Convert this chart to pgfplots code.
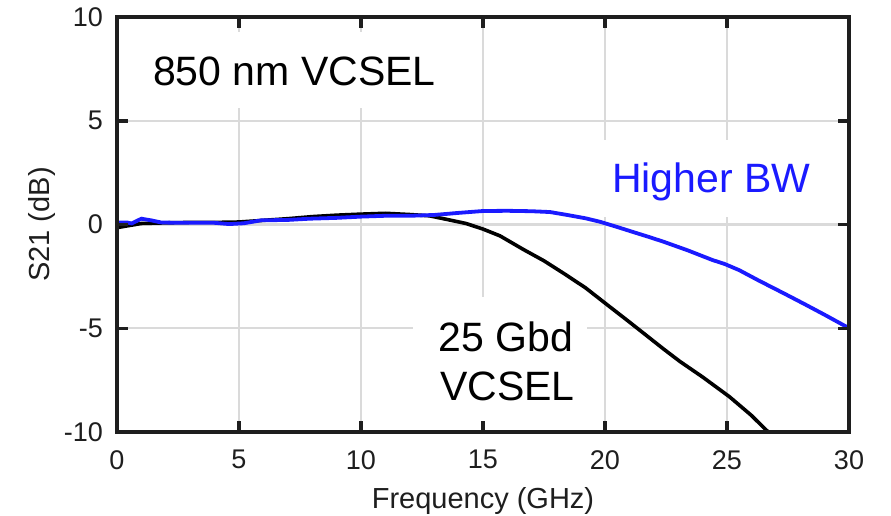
\documentclass[border=0pt]{standalone}
\usepackage{fontspec}
\setmainfont{Liberation Sans}
\usepackage{pgfplots}
\pgfplotsset{compat=1.18}
\definecolor{axgray}{RGB}{30,30,30}
\definecolor{gridgray}{RGB}{218,218,218}
\definecolor{myblue}{RGB}{26,26,255}
\begin{document}
\begin{tikzpicture}
\begin{axis}[
  scale only axis,
  width=732pt, height=415pt,
  xmin=0, xmax=30, ymin=-10, ymax=10,
  xtick={0,5,10,15,20,25,30},
  xticklabels={0,5,10,15,20,25,30},
  ytick={-10,-5,0,5,10},
  yticklabels={-10,-5,0,5,10},
  axis on top,
  axis line style={color=axgray, line width=3.5pt},
  major tick length=0pt,
  ticklabel style={font=\fontsize{27}{32}\selectfont, text=axgray, inner sep=0pt},
  xticklabel style={anchor=north, yshift=-18pt},
  yticklabel style={anchor=east, xshift=-14pt},
  xlabel={Frequency (GHz)},
  ylabel={S21 (dB)},
  label style={font=\fontsize{29}{34}\selectfont, text=axgray, inner sep=0pt},
  xlabel style={at={([yshift=-76pt]rel axis cs:0.5,0)}, anchor=base},
  ylabel style={at={([xshift=-67pt]rel axis cs:0,0.5)}, anchor=base},
]
\coordinate (bl) at (rel axis cs:0,0);
\coordinate (tr) at (rel axis cs:1,1);
% grid
\draw[gridgray, line width=2.2pt] (axis cs:5,-10) -- (axis cs:5,10);
\draw[gridgray, line width=2.2pt] (axis cs:10,-10) -- (axis cs:10,10);
\draw[gridgray, line width=2.2pt] (axis cs:15,-10) -- (axis cs:15,10);
\draw[gridgray, line width=2.2pt] (axis cs:20,-10) -- (axis cs:20,10);
\draw[gridgray, line width=2.2pt] (axis cs:25,-10) -- (axis cs:25,10);
\draw[gridgray, line width=2.2pt] (axis cs:0,-5) -- (axis cs:30,-5);
\draw[gridgray, line width=2.2pt] (axis cs:0,0) -- (axis cs:30,0);
\draw[gridgray, line width=2.2pt] (axis cs:0,5) -- (axis cs:30,5);
% text boxes
\fill[white] (axis cs:0.53,9.28) rectangle (axis cs:14.0,5.61);
\fill[white] (axis cs:19.34,4.07) rectangle (axis cs:29.4,0.36);
\fill[white] (axis cs:12.13,-3.49) rectangle (axis cs:19.26,-10);

\addplot[black, line width=3.6pt, no markers] coordinates {
(0,-0.15) (0.5,-0.05) (1,0.05) (2,0.08) (3,0.1) (4,0.1) (5,0.12) (6,0.2)
(7,0.28) (8,0.38) (9,0.45) (10,0.5) (11,0.54) (12,0.48) (12.8,0.42)
(13.5,0.25) (14.3,0.05) (15,-0.22) (15.7,-0.55) (16.65,-1.2) (17.5,-1.75)
(18.3,-2.35) (19.2,-3.05) (20.07,-3.85) (21,-4.7) (21.7,-5.35) (22.4,-6.0)
(23.07,-6.6) (24,-7.35) (25.1,-8.3) (26,-9.2) (26.6,-9.9) (26.75,-10.05)
};
\addplot[myblue, line width=3.8pt, no markers] coordinates {
(0,0.1) (0.4,0.1) (0.6,0.05) (1.0,0.28) (1.4,0.2) (1.8,0.1) (2.5,0.08)
(3.1,0.08) (4,0.08) (4.6,0.02) (5.2,0.06) (5.9,0.2) (7,0.22) (7.9,0.28)
(9,0.32) (10,0.38) (11,0.42) (12,0.42) (13,0.46) (14,0.56) (15,0.65)
(16,0.66) (17,0.64) (17.75,0.6) (18.5,0.45) (19.2,0.3) (19.8,0.13)
(20.5,-0.12) (21.2,-0.38) (21.8,-0.6) (22.4,-0.83) (23.4,-1.25) (24.4,-1.71)
(24.9,-1.9) (25.5,-2.2) (26.3,-2.7) (27.3,-3.3) (28.2,-3.85) (29,-4.35)
(29.9,-4.93) (30,-5.0)
};
\node[anchor=base, inner sep=0pt, font=\fontsize{41}{49}\selectfont] at (axis cs:7.27,6.72) {850 nm VCSEL};
\node[anchor=base, inner sep=0pt, font=\fontsize{41}{49}\selectfont, text=myblue] at (axis cs:24.36,1.52) {Higher BW};
\node[anchor=base, inner sep=0pt, font=\fontsize{41}{49}\selectfont] at (axis cs:15.94,-6.1) {25 Gbd};
\node[anchor=base, inner sep=0pt, font=\fontsize{41}{49}\selectfont] at (axis cs:16.0,-8.46) {VCSEL};
% tick marks (inside, all four sides)
\draw[axgray, line width=3.5pt] (axis cs:5,-10) -- ([yshift=11pt]axis cs:5,-10);
\draw[axgray, line width=3.5pt] (axis cs:10,-10) -- ([yshift=11pt]axis cs:10,-10);
\draw[axgray, line width=3.5pt] (axis cs:15,-10) -- ([yshift=11pt]axis cs:15,-10);
\draw[axgray, line width=3.5pt] (axis cs:20,-10) -- ([yshift=11pt]axis cs:20,-10);
\draw[axgray, line width=3.5pt] (axis cs:25,-10) -- ([yshift=11pt]axis cs:25,-10);
\draw[axgray, line width=3.5pt] (axis cs:5,10) -- ([yshift=-11pt]axis cs:5,10);
\draw[axgray, line width=3.5pt] (axis cs:10,10) -- ([yshift=-11pt]axis cs:10,10);
\draw[axgray, line width=3.5pt] (axis cs:15,10) -- ([yshift=-11pt]axis cs:15,10);
\draw[axgray, line width=3.5pt] (axis cs:20,10) -- ([yshift=-11pt]axis cs:20,10);
\draw[axgray, line width=3.5pt] (axis cs:25,10) -- ([yshift=-11pt]axis cs:25,10);
\draw[axgray, line width=3.5pt] (axis cs:0,-5) -- ([xshift=11pt]axis cs:0,-5);
\draw[axgray, line width=3.5pt] (axis cs:0,0) -- ([xshift=11pt]axis cs:0,0);
\draw[axgray, line width=3.5pt] (axis cs:0,5) -- ([xshift=11pt]axis cs:0,5);
\draw[axgray, line width=3.5pt] (axis cs:30,-5) -- ([xshift=-11pt]axis cs:30,-5);
\draw[axgray, line width=3.5pt] (axis cs:30,0) -- ([xshift=-11pt]axis cs:30,0);
\draw[axgray, line width=3.5pt] (axis cs:30,5) -- ([xshift=-11pt]axis cs:30,5);
\end{axis}
\pgfresetboundingbox
\path[use as bounding box] ([shift={(-117pt,-83pt)}]bl) rectangle ([shift={(42pt,17pt)}]tr);
\end{tikzpicture}
\end{document}
